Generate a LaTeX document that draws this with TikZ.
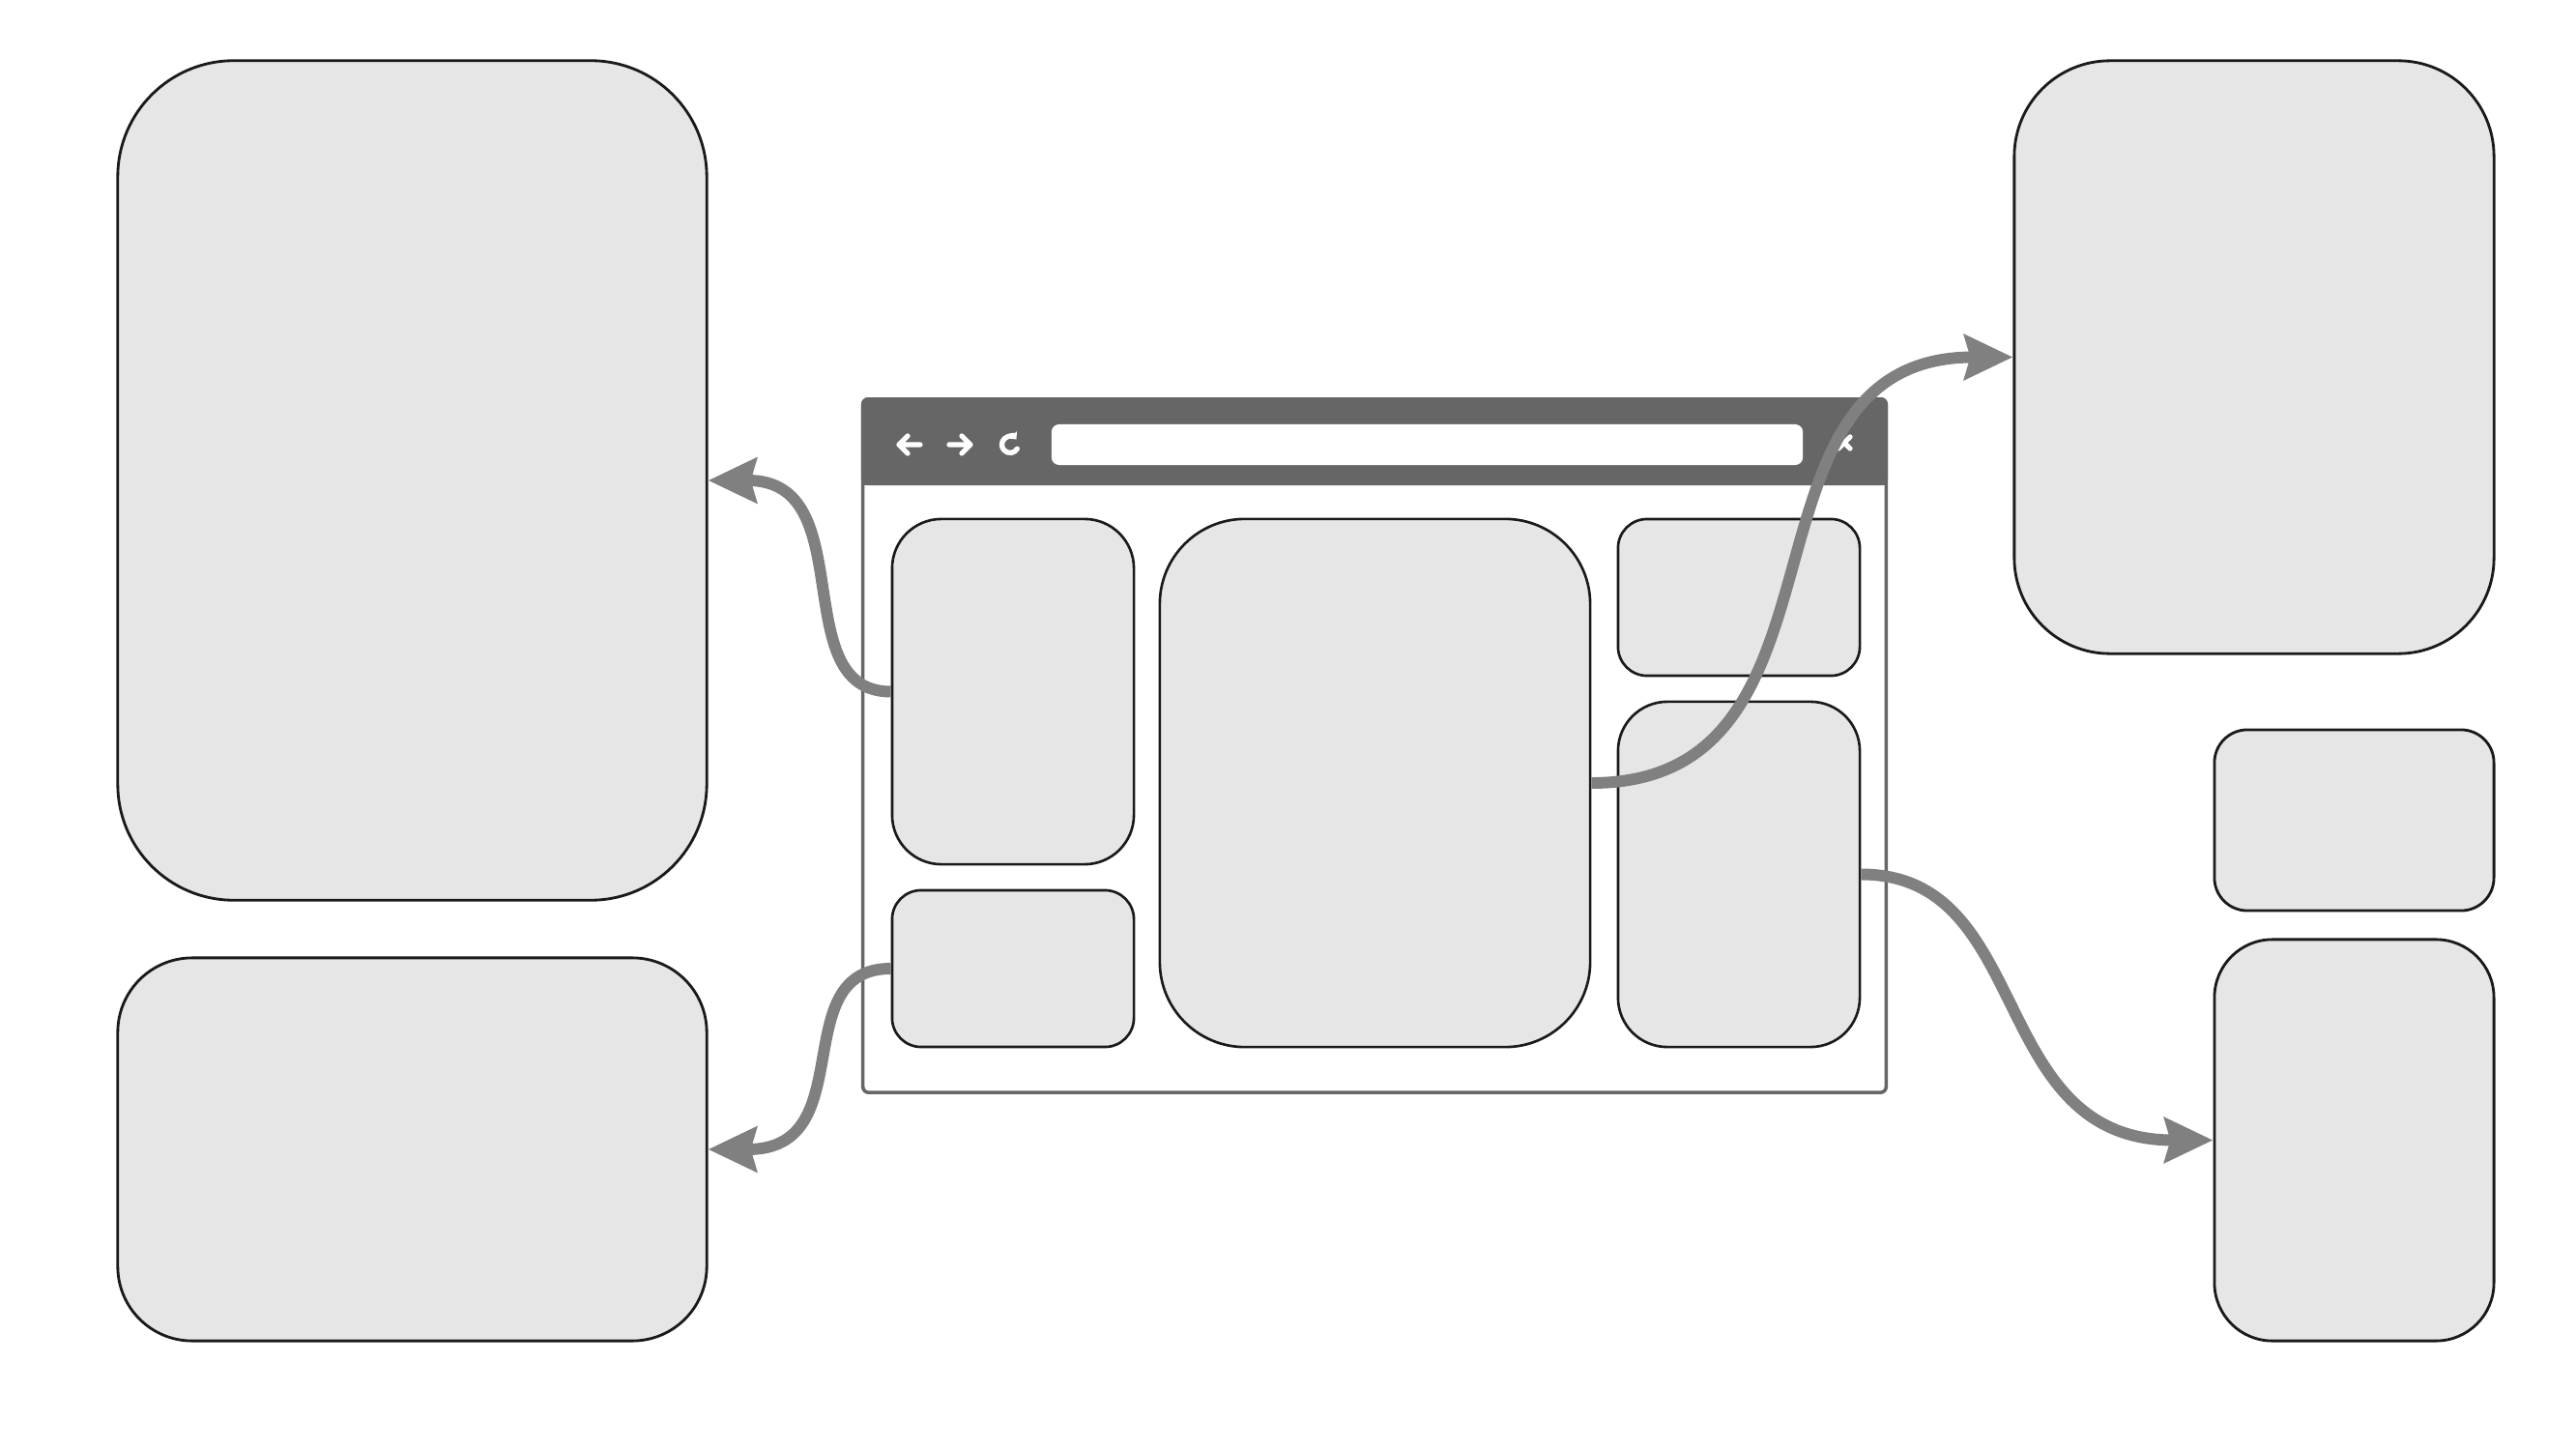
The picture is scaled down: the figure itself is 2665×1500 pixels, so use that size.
\documentclass[tikz,border=0pt]{standalone}
\usepackage{tikz}
\usetikzlibrary{arrows.meta,positioning,calc}
\definecolor{panefill}{RGB}{230,230,230}
\definecolor{paneline}{RGB}{26,26,26}
\definecolor{barcolor}{RGB}{102,102,102}
\definecolor{linkcolor}{RGB}{128,128,128}
\tikzset{
  pane/.style={draw=paneline, fill=panefill, line width=0.8pt, inner sep=0pt},
  tile/.style={draw=paneline, fill=panefill, line width=0.75pt, inner sep=0pt},
  icon/.style={draw=white, line width=1.5pt, line cap=round, line join=round},
  link/.style={-{Stealth[length=0.5cm,width=0.46cm,inset=0.06cm]}, line width=3.4pt, draw=linkcolor},
}
\begin{document}
\begin{tikzpicture}[x=0.01cm, y=-0.01cm]
    \useasboundingbox (0,0) rectangle (2665,1500);
    % outer panes
    \node[pane, minimum width=6.09cm, minimum height=8.68cm, rounded corners=1.2cm] (paneTall) at (426.5,497) {};
    \node[pane, minimum width=6.09cm, minimum height=3.96cm, rounded corners=0.77cm] (paneWide) at (426.5,1189) {};
    \node[pane, minimum width=4.96cm, minimum height=6.13cm, rounded corners=0.99cm] (paneTop) at (2332,369.5) {};
    \node[pane, minimum width=2.89cm, minimum height=1.87cm, rounded corners=0.34cm] (paneSmall) at (2435.5,848.5) {};
    \node[pane, minimum width=2.89cm, minimum height=4.15cm, rounded corners=0.6cm] (paneLow) at (2435.5,1179.5) {};
    % browser window
    \node[draw=barcolor, fill=white, line width=1pt, inner sep=0pt, minimum width=10.58cm,
      minimum height=7.17cm, rounded corners=0.06cm] (browser) at (1422,771.5) {};
    \fill[barcolor, rounded corners=0.07cm] (browser.north west) rectangle ($(browser.north east)+(0,91)$);
    \fill[barcolor] ($(browser.north west)+(0,40)$) rectangle ($(browser.north east)+(0,91)$);
    \node[fill=white, inner sep=0pt, minimum width=7.77cm, minimum height=0.42cm,
      rounded corners=0.08cm] (urlbar) at (1476.5,460) {};
    \draw[icon] (952,460) -- (930,460) (939,451) -- (930,460) -- (939,469);
    \draw[icon] (982,460) -- (1004,460) (995,451) -- (1004,460) -- (995,469);
    \draw[icon, {Triangle[length=0.06cm,width=0.11cm]}-] (1051.5,454.5) arc[start angle=40, end angle=330, radius=0.085cm];
    \draw[icon] (1902,452) -- (1914,464) (1902,464) -- (1914,452);
    % tiles inside the window
    \node[tile, minimum width=2.5cm, minimum height=3.57cm, rounded corners=0.51cm] (tileLeftTop) at (1048,715.5) {};
    \node[tile, minimum width=2.5cm, minimum height=1.62cm, rounded corners=0.3cm] (tileLeftLow) at (1048,1002) {};
    \node[tile, minimum width=4.45cm, minimum height=5.46cm, rounded corners=0.88cm] (tileMain) at (1422.5,810) {};
    \node[tile, minimum width=2.5cm, minimum height=1.62cm, rounded corners=0.3cm] (tileRightTop) at (1799,618) {};
    \node[tile, minimum width=2.5cm, minimum height=3.57cm, rounded corners=0.51cm] (tileRightLow) at (1799,904.5) {};
    % links
    \draw[link] (tileLeftTop.west) .. controls +(-110,0) and +(160,0) .. (paneTall.east);
    \draw[link] (tileLeftLow.west) .. controls +(-110,0) and +(160,0) .. (paneWide.east);
    \draw[link] (tileMain.east) .. controls +(285,0) and +(-300,0) .. (paneTop.west);
    \draw[link] (tileRightLow.east) .. controls +(180,0) and +(-235,0) .. (paneLow.west);
\end{tikzpicture}
\end{document}
